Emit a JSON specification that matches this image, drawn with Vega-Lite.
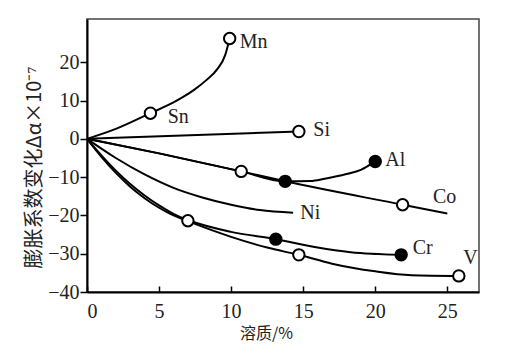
{
  "$schema": "https://vega.github.io/schema/vega-lite/v6.json",
  "width": 392,
  "height": 273,
  "autosize": "none",
  "padding": {"left": 87, "top": 19, "right": 33, "bottom": 65},
  "background": "white",
  "config": {
    "view": {"stroke": "#444", "strokeWidth": 1.5},
    "axis": {
      "grid": false,
      "domainColor": "black",
      "domainWidth": 2,
      "tickColor": "black",
      "tickWidth": 1.5,
      "labelFont": "Liberation Serif",
      "labelFontSize": 20,
      "labelColor": "#222",
      "titleFontWeight": "normal",
      "titleColor": "#222"
    }
  },
  "datasets": {
    "lines": [
      {"s": "Mn", "x": 0, "y": 0}, {"s": "Mn", "x": 2, "y": 2.6}, {"s": "Mn", "x": 4.4, "y": 6.7}, {"s": "Mn", "x": 6, "y": 9.5}, {"s": "Mn", "x": 6.7, "y": 11}, {"s": "Mn", "x": 7.5, "y": 13}, {"s": "Mn", "x": 8.3, "y": 15.4}, {"s": "Mn", "x": 9, "y": 18}, {"s": "Mn", "x": 9.6, "y": 22}, {"s": "Mn", "x": 9.9, "y": 26.2},
      {"s": "Si", "x": 0, "y": 0}, {"s": "Si", "x": 14.7, "y": 1.9},
      {"s": "Al", "x": 0, "y": 0}, {"s": "Al", "x": 5, "y": -3.8}, {"s": "Al", "x": 10.7, "y": -8.5}, {"s": "Al", "x": 13.75, "y": -11.1}, {"s": "Al", "x": 15.5, "y": -11}, {"s": "Al", "x": 16.5, "y": -10.4}, {"s": "Al", "x": 18, "y": -9.2}, {"s": "Al", "x": 19, "y": -8.1}, {"s": "Al", "x": 20, "y": -5.9},
      {"s": "Co", "x": 0, "y": 0}, {"s": "Co", "x": 5, "y": -3.8}, {"s": "Co", "x": 10.7, "y": -8.5}, {"s": "Co", "x": 13.75, "y": -11.1}, {"s": "Co", "x": 21.9, "y": -17.2}, {"s": "Co", "x": 25, "y": -19.5},
      {"s": "Ni", "x": 0, "y": 0}, {"s": "Ni", "x": 2, "y": -5}, {"s": "Ni", "x": 4, "y": -9.3}, {"s": "Ni", "x": 6, "y": -12.8}, {"s": "Ni", "x": 8, "y": -15.3}, {"s": "Ni", "x": 10, "y": -17.2}, {"s": "Ni", "x": 12, "y": -18.6}, {"s": "Ni", "x": 14.3, "y": -19.3},
      {"s": "Cr", "x": 0, "y": 0}, {"s": "Cr", "x": 1, "y": -4.3}, {"s": "Cr", "x": 2, "y": -8.3}, {"s": "Cr", "x": 3, "y": -11.8}, {"s": "Cr", "x": 4, "y": -14.8}, {"s": "Cr", "x": 5, "y": -17.4}, {"s": "Cr", "x": 6, "y": -19.6}, {"s": "Cr", "x": 7, "y": -21.2}, {"s": "Cr", "x": 10, "y": -24.3}, {"s": "Cr", "x": 13.1, "y": -26.2}, {"s": "Cr", "x": 16, "y": -28.4}, {"s": "Cr", "x": 18.3, "y": -29.6}, {"s": "Cr", "x": 21.8, "y": -30.3},
      {"s": "V", "x": 0, "y": 0}, {"s": "V", "x": 1, "y": -4.7}, {"s": "V", "x": 2, "y": -8.9}, {"s": "V", "x": 3, "y": -12.5}, {"s": "V", "x": 4, "y": -15.5}, {"s": "V", "x": 5, "y": -18}, {"s": "V", "x": 6, "y": -20}, {"s": "V", "x": 7, "y": -21.5}, {"s": "V", "x": 10, "y": -25.6}, {"s": "V", "x": 12.5, "y": -28.4}, {"s": "V", "x": 14.7, "y": -30.3}, {"s": "V", "x": 17, "y": -32.6}, {"s": "V", "x": 20, "y": -34.6}, {"s": "V", "x": 22.5, "y": -35.6}, {"s": "V", "x": 25.8, "y": -35.8}
    ],
    "points": [
      {"x": 9.9, "y": 26.2, "f": "open"},
      {"x": 4.4, "y": 6.7, "f": "open"},
      {"x": 14.7, "y": 1.9, "f": "open"},
      {"x": 20, "y": -5.9, "f": "filled"},
      {"x": 10.7, "y": -8.5, "f": "open"},
      {"x": 13.75, "y": -11.1, "f": "filled"},
      {"x": 21.9, "y": -17.2, "f": "open"},
      {"x": 7, "y": -21.4, "f": "open"},
      {"x": 13.1, "y": -26.2, "f": "filled"},
      {"x": 21.8, "y": -30.3, "f": "filled"},
      {"x": 14.7, "y": -30.3, "f": "open"},
      {"x": 25.8, "y": -35.8, "f": "open"}
    ],
    "labels": [
      {"x": 10.6, "y": 25.3, "t": "Mn"},
      {"x": 5.6, "y": 5.7, "t": "Sn"},
      {"x": 15.7, "y": 2.3, "t": "Si"},
      {"x": 20.7, "y": -5.5, "t": "Al"},
      {"x": 24.0, "y": -15.1, "t": "Co"},
      {"x": 14.8, "y": -19.3, "t": "Ni"},
      {"x": 22.6, "y": -28.5, "t": "Cr"},
      {"x": 26.1, "y": -31.1, "t": "V"}
    ]
  },
  "layer": [
    {
      "data": {"name": "lines"},
      "mark": {"type": "line", "color": "black", "strokeWidth": 2, "interpolate": "monotone"},
      "encoding": {
        "x": {
          "field": "x", "type": "quantitative",
          "scale": {"domain": [0, 27.2], "nice": false, "zero": false},
          "axis": {
            "values": [0, 5, 10, 15, 20, 25],
            "tickSize": -6,
            "labelPadding": 15,
            "labelBaseline": "top",
            "title": "溶质/%",
            "titleFont": "Noto Sans CJK SC",
            "titleFontSize": 16,
            "titleX": 179,
            "titleY": 41,
            "titleAlign": "center",
            "titleBaseline": "middle"
          }
        },
        "y": {
          "field": "y", "type": "quantitative",
          "scale": {"domain": [-40, 31.3], "nice": false, "zero": false},
          "axis": {
            "values": [-40, -30, -20, -10, 0, 10, 20],
            "tickSize": 7,
            "labelPadding": 1,
            "title": "膨胀系数变化Δα×10⁻⁷",
            "titleFont": "Noto Sans CJK SC",
            "titleFontSize": 20,
            "titleAngle": -90,
            "titleX": -53,
            "titleY": 148,
            "titleAlign": "center",
            "titleBaseline": "middle"
          }
        },
        "detail": {"field": "s"}
      }
    },
    {
      "data": {"name": "points"},
      "mark": {"type": "point", "shape": "circle", "size": 130, "stroke": "black", "strokeWidth": 2, "opacity": 1},
      "encoding": {
        "x": {"field": "x", "type": "quantitative"},
        "y": {"field": "y", "type": "quantitative"},
        "fill": {
          "field": "f", "type": "nominal",
          "scale": {"domain": ["open", "filled"], "range": ["white", "black"]},
          "legend": null
        }
      }
    },
    {
      "data": {"name": "labels"},
      "mark": {"type": "text", "font": "Liberation Serif", "fontSize": 20, "align": "left", "baseline": "middle", "color": "#222"},
      "encoding": {
        "x": {"field": "x", "type": "quantitative"},
        "y": {"field": "y", "type": "quantitative"},
        "text": {"field": "t"}
      }
    }
  ]
}
